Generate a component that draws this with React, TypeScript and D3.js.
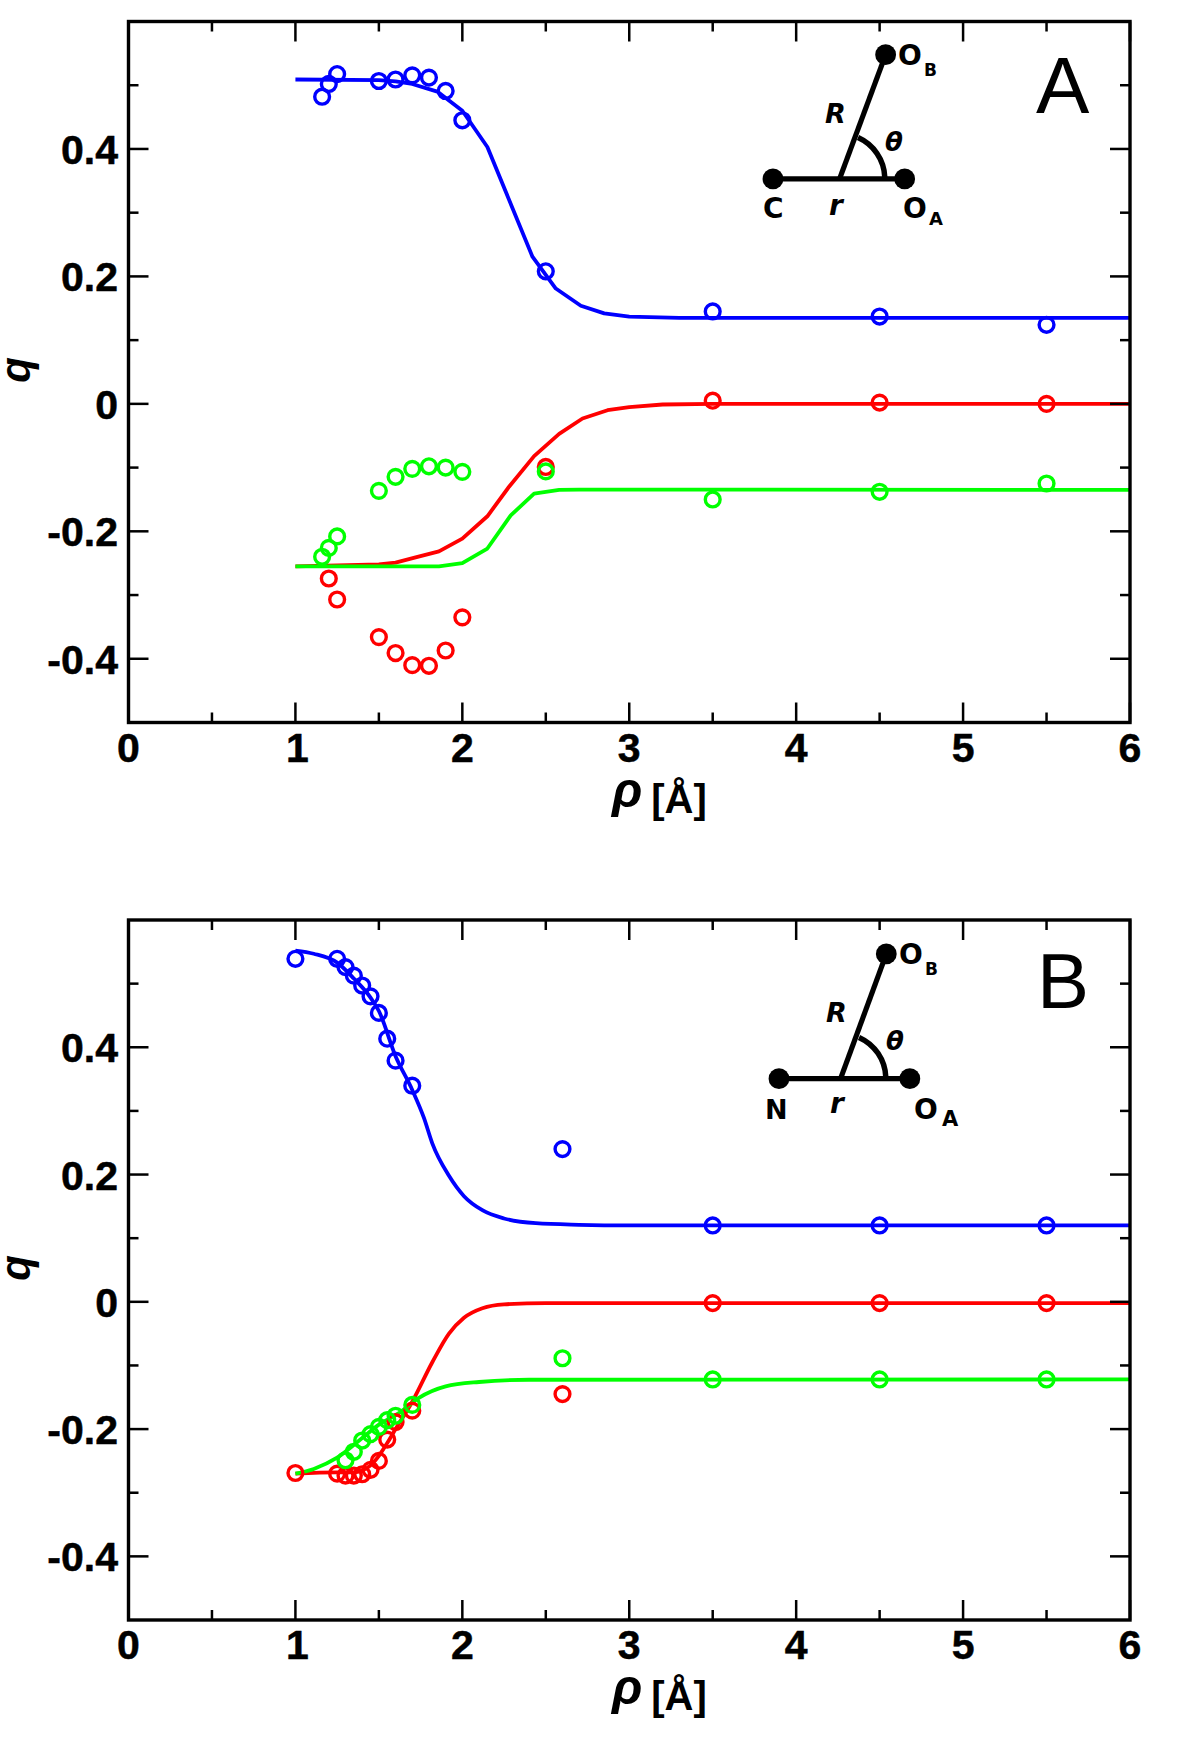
import React from "react";
import * as d3 from "d3";

const xMajor = [0, 1, 2, 3, 4, 5, 6];
const xMinor = [0.5, 1.5, 2.5, 3.5, 4.5, 5.5];
const yMajor = [-0.4, -0.2, 0, 0.2, 0.4];
const yMinor = [-0.3, -0.1, 0.1, 0.3, 0.5];
const xTickLabels = ["0", "1", "2", "3", "4", "5", "6"];
const yTickLabels = ["-0.4", "-0.2", "0", "0.2", "0.4"];

// Panel A — points
const aPtsBlueX = [1.16, 1.2, 1.25, 1.5, 1.6, 1.7, 1.8, 1.9, 2.0, 2.5, 3.5, 4.5, 5.5];
const aPtsBlueY = [0.482, 0.502, 0.5175, 0.5066, 0.509, 0.5155, 0.512, 0.491, 0.445, 0.208, 0.145, 0.137, 0.124];
const aPtsRedX = [1.2, 1.25, 1.5, 1.6, 1.7, 1.8, 1.9, 2.0, 2.5, 3.5, 4.5, 5.5];
const aPtsRedY = [-0.274, -0.307, -0.366, -0.391, -0.41, -0.411, -0.387, -0.335, -0.099, 0.005, 0.002, 0.0];
const aPtsGreenX = [1.16, 1.2, 1.25, 1.5, 1.6, 1.7, 1.8, 1.9, 2.0, 2.5, 3.5, 4.5, 5.5];
const aPtsGreenY = [-0.24, -0.226, -0.208, -0.1365, -0.1145, -0.102, -0.098, -0.1, -0.1067, -0.106, -0.15, -0.138, -0.125];

// Panel A — curves
const aLineBlueX = [1.0, 1.5, 1.6, 1.7, 1.85, 2.0, 2.15, 2.42, 2.56, 2.71, 2.85, 3.0, 3.3, 6.0];
const aLineBlueY = [0.509, 0.508, 0.506, 0.502, 0.49, 0.46, 0.403, 0.231, 0.181, 0.154, 0.142, 0.137, 0.135, 0.135];
const aLineRedX = [1.0, 1.5, 1.6, 1.72, 1.86, 2.0, 2.15, 2.28, 2.43, 2.58, 2.72, 2.87, 3.0, 3.2, 3.5, 6.0];
const aLineRedY = [-0.255, -0.252, -0.249, -0.241, -0.2314, -0.2115, -0.1764, -0.13, -0.082, -0.047, -0.023, -0.01, -0.005, -0.001, 0, 0];
const aLineGreenX = [1.0, 1.86, 2.0, 2.15, 2.29, 2.43, 2.58, 2.7, 6.0];
const aLineGreenY = [-0.255, -0.255, -0.25, -0.227, -0.175, -0.141, -0.135, -0.1345, -0.135];

// Panel B — points
const bPtsBlueX = [1.0, 1.25, 1.3, 1.35, 1.4, 1.45, 1.5, 1.55, 1.6, 1.7, 2.6, 3.5, 4.5, 5.5];
const bPtsBlueY = [0.539, 0.539, 0.526, 0.5126, 0.497, 0.48, 0.454, 0.4135, 0.379, 0.3396, 0.24, 0.12, 0.12, 0.12];
const bPtsRedX = [1.0, 1.25, 1.3, 1.35, 1.4, 1.45, 1.5, 1.55, 1.6, 1.7, 2.6, 3.5, 4.5, 5.5];
const bPtsRedY = [-0.269, -0.27, -0.273, -0.273, -0.271, -0.264, -0.25, -0.2165, -0.189, -0.171, -0.145, -0.002, -0.002, -0.002];
const bPtsGreenX = [1.3, 1.35, 1.4, 1.45, 1.5, 1.55, 1.6, 1.7, 2.6, 3.5, 4.5, 5.5];
const bPtsGreenY = [-0.249, -0.2357, -0.218, -0.208, -0.1965, -0.186, -0.179, -0.162, -0.0887, -0.122, -0.122, -0.122];

// Panel B — curves
const bLineBlueX = [1.0, 1.11, 1.25, 1.35, 1.45, 1.5, 1.6, 1.7, 1.77, 1.82, 1.92, 2.01, 2.12, 2.25, 2.44, 2.7, 3.0, 6.0];
const bLineBlueY = [0.552, 0.547, 0.533, 0.508, 0.478, 0.457, 0.386, 0.333, 0.289, 0.249, 0.198, 0.166, 0.144, 0.131, 0.1235, 0.121, 0.12, 0.12];
const bLineRedX = [1.0, 1.25, 1.3, 1.35, 1.4, 1.45, 1.5, 1.55, 1.6, 1.7, 1.82, 1.92, 2.01, 2.12, 2.25, 2.5, 6.0];
const bLineRedY = [-0.27, -0.268, -0.268, -0.268, -0.265, -0.257, -0.242, -0.222, -0.2, -0.157, -0.095, -0.05, -0.025, -0.01, -0.004, -0.002, -0.002];
const bLineGreenX = [1.0, 1.11, 1.25, 1.4, 1.5, 1.62, 1.74, 1.9, 2.1, 2.4, 6.0];
const bLineGreenY = [-0.27, -0.2626, -0.245, -0.214, -0.193, -0.175, -0.151, -0.133, -0.126, -0.1225, -0.122];

const BLUE = "#0000ff";
const RED = "#ff0000";
const GREEN = "#00ff00";
const SANS = "'Liberation Sans', Arial, sans-serif";
const DEJA = "'DejaVu Sans', sans-serif";

const zip = (xs: number[], ys: number[]) => xs.map((x, i) => [x, ys[i]] as [number, number]);

type Series = { color: string; lineX: number[]; lineY: number[]; ptsX: number[]; ptsY: number[] };

const panelA: Series[] = [
  { color: BLUE, lineX: aLineBlueX, lineY: aLineBlueY, ptsX: aPtsBlueX, ptsY: aPtsBlueY },
  { color: RED, lineX: aLineRedX, lineY: aLineRedY, ptsX: aPtsRedX, ptsY: aPtsRedY },
  { color: GREEN, lineX: aLineGreenX, lineY: aLineGreenY, ptsX: aPtsGreenX, ptsY: aPtsGreenY },
];
const panelB: Series[] = [
  { color: BLUE, lineX: bLineBlueX, lineY: bLineBlueY, ptsX: bPtsBlueX, ptsY: bPtsBlueY },
  { color: RED, lineX: bLineRedX, lineY: bLineRedY, ptsX: bPtsRedX, ptsY: bPtsRedY },
  { color: GREEN, lineX: bLineGreenX, lineY: bLineGreenY, ptsX: bPtsGreenX, ptsY: bPtsGreenY },
];

const L = 128.5;
const R_EDGE = 1130;

type Lbl = { t: string; x: number; y: number; s: number; w?: number; i?: boolean; f?: string };
type Inset = {
  left: [number, number];
  right: [number, number];
  top: [number, number];
  joint: [number, number];
  labels: Lbl[];
};

function Panel({ top, bottom, series, inset, curve }: { top: number; bottom: number; series: Series[]; inset: Inset; curve: d3.CurveFactory }) {
  const x = d3.scaleLinear().domain([0, 6]).range([L, R_EDGE]);
  const y = d3.scaleLinear().domain([-0.5, 0.6]).range([bottom, top]);
  const line = d3
    .line<[number, number]>()
    .x((d) => x(d[0]))
    .y((d) => y(d[1]))
    .curve(curve);

  const jx = x(inset.joint[0]);
  const jy = y(inset.joint[1]);
  const arc = d3.arc()({ innerRadius: 42.5, outerRadius: 48, startAngle: 0.42, endAngle: 1.53 } as any) as string;

  return (
    <g>
      {series.map((s) => (
        <path key={s.color} d={line(zip(s.lineX, s.lineY)) as string} fill="none" stroke={s.color} strokeWidth={3.8} strokeLinejoin="round" />
      ))}
      {series.map((s) =>
        zip(s.ptsX, s.ptsY).map((p, i) => (
          <circle key={s.color + i} cx={x(p[0])} cy={y(p[1])} r={7.4} fill="none" stroke={s.color} strokeWidth={3.4} />
        ))
      )}
      {xMajor.map((v) => (
        <g key={"xM" + v} stroke="#000" strokeWidth={2.5}>
          <line x1={x(v)} x2={x(v)} y1={bottom} y2={bottom - 20} />
          <line x1={x(v)} x2={x(v)} y1={top} y2={top + 20} />
        </g>
      ))}
      {xMinor.map((v) => (
        <g key={"xm" + v} stroke="#000" strokeWidth={2.5}>
          <line x1={x(v)} x2={x(v)} y1={bottom} y2={bottom - 10} />
          <line x1={x(v)} x2={x(v)} y1={top} y2={top + 10} />
        </g>
      ))}
      {yMajor.map((v) => (
        <g key={"yM" + v} stroke="#000" strokeWidth={2.5}>
          <line x1={L} x2={L + 20} y1={y(v)} y2={y(v)} />
          <line x1={R_EDGE} x2={R_EDGE - 20} y1={y(v)} y2={y(v)} />
        </g>
      ))}
      {yMinor.map((v) => (
        <g key={"ym" + v} stroke="#000" strokeWidth={2.5}>
          <line x1={L} x2={L + 10} y1={y(v)} y2={y(v)} />
          <line x1={R_EDGE} x2={R_EDGE - 10} y1={y(v)} y2={y(v)} />
        </g>
      ))}
      <rect x={L} y={top} width={R_EDGE - L} height={bottom - top} fill="none" stroke="#000" strokeWidth={3.4} />
      {xMajor.map((v, i) => (
        <text key={"xl" + v} x={x(v) + (v === 1 ? 2 : 0)} y={bottom + 39} textAnchor="middle" fontFamily={SANS} fontWeight={700} fontSize={41} stroke="#000" strokeWidth={0.5}>
          {xTickLabels[i]}
        </text>
      ))}
      {yMajor.map((v, i) => (
        <text key={"yl" + v} x={118} y={y(v) + 15} textAnchor="end" fontFamily={SANS} fontWeight={700} fontSize={41} stroke="#000" strokeWidth={0.5}>
          {yTickLabels[i]}
        </text>
      ))}
      <text transform={`translate(30,${y(0) - 34}) rotate(-90)`} textAnchor="middle" fontFamily={SANS} fontWeight={700} fontStyle="italic" fontSize={42}>
        q
      </text>
      <text x={612} y={bottom + 84} fontFamily={SANS} fontWeight={700}>
        <tspan fontStyle="italic" fontSize={50}>ρ</tspan>
        <tspan dx={9} dy={6} fontSize={40}>[Å]</tspan>
      </text>

      {/* inset */}
      <g stroke="#000" strokeWidth={5.2} fill="none">
        <line x1={x(inset.left[0])} y1={y(inset.left[1])} x2={x(inset.right[0])} y2={y(inset.right[1])} />
        <line x1={jx} y1={jy} x2={x(inset.top[0])} y2={y(inset.top[1])} />
      </g>
      <path d={arc} transform={`translate(${jx},${jy})`} fill="#000" />
      {[inset.left, inset.right, inset.top].map((p, i) => (
        <circle key={i} cx={x(p[0])} cy={y(p[1])} r={10.4} fill="#000" />
      ))}
      {inset.labels.map((l) => (
        <text key={l.t + l.x} x={l.x} y={l.y} fontFamily={l.f ?? DEJA} fontSize={l.s} fontWeight={l.w ?? 700} fontStyle={l.i ? "italic" : "normal"}>
          {l.t}
        </text>
      ))}
    </g>
  );
}

const insetA: Inset = {
  left: [3.861, 0.353],
  right: [4.65, 0.353],
  top: [4.536, 0.548],
  joint: [4.26, 0.353],
  labels: [
    { t: "O", x: 898, y: 65, s: 28 },
    { t: "B", x: 924, y: 76, s: 17 },
    { t: "C", x: 763, y: 218, s: 28 },
    { t: "O", x: 903, y: 218, s: 28 },
    { t: "A", x: 929, y: 225, s: 18 },
    { t: "R", x: 825, y: 123, s: 27, i: true },
    { t: "r", x: 829, y: 215, s: 28, i: true },
    { t: "θ", x: 885, y: 151, s: 26, i: true },
    { t: "A", x: 1036, y: 113, s: 80, w: 400, f: SANS },
  ],
};

const insetB: Inset = {
  left: [3.897, 0.3506],
  right: [4.681, 0.3506],
  top: [4.54, 0.5467],
  joint: [4.266, 0.3506],
  labels: [
    { t: "O", x: 899, y: 964, s: 28 },
    { t: "B", x: 925, y: 975, s: 17 },
    { t: "N", x: 765, y: 1119, s: 27 },
    { t: "O", x: 914, y: 1119, s: 28 },
    { t: "A", x: 942, y: 1126, s: 21 },
    { t: "R", x: 826, y: 1022, s: 27, i: true },
    { t: "r", x: 830, y: 1113, s: 28, i: true },
    { t: "θ", x: 886, y: 1050, s: 26, i: true },
    { t: "B", x: 1037, y: 1008, s: 78, w: 400, f: SANS },
  ],
};

export default function App() {
  return (
    <svg width={1200} height={1740} viewBox="0 0 1200 1740" style={{ position: "absolute", left: 0, top: 0, display: "block", background: "#fff" }}>
      <Panel top={21.5} bottom={722.5} series={panelA} inset={insetA} curve={d3.curveLinear} />
      <Panel top={920} bottom={1620} series={panelB} inset={insetB} curve={d3.curveMonotoneX} />
    </svg>
  );
}
